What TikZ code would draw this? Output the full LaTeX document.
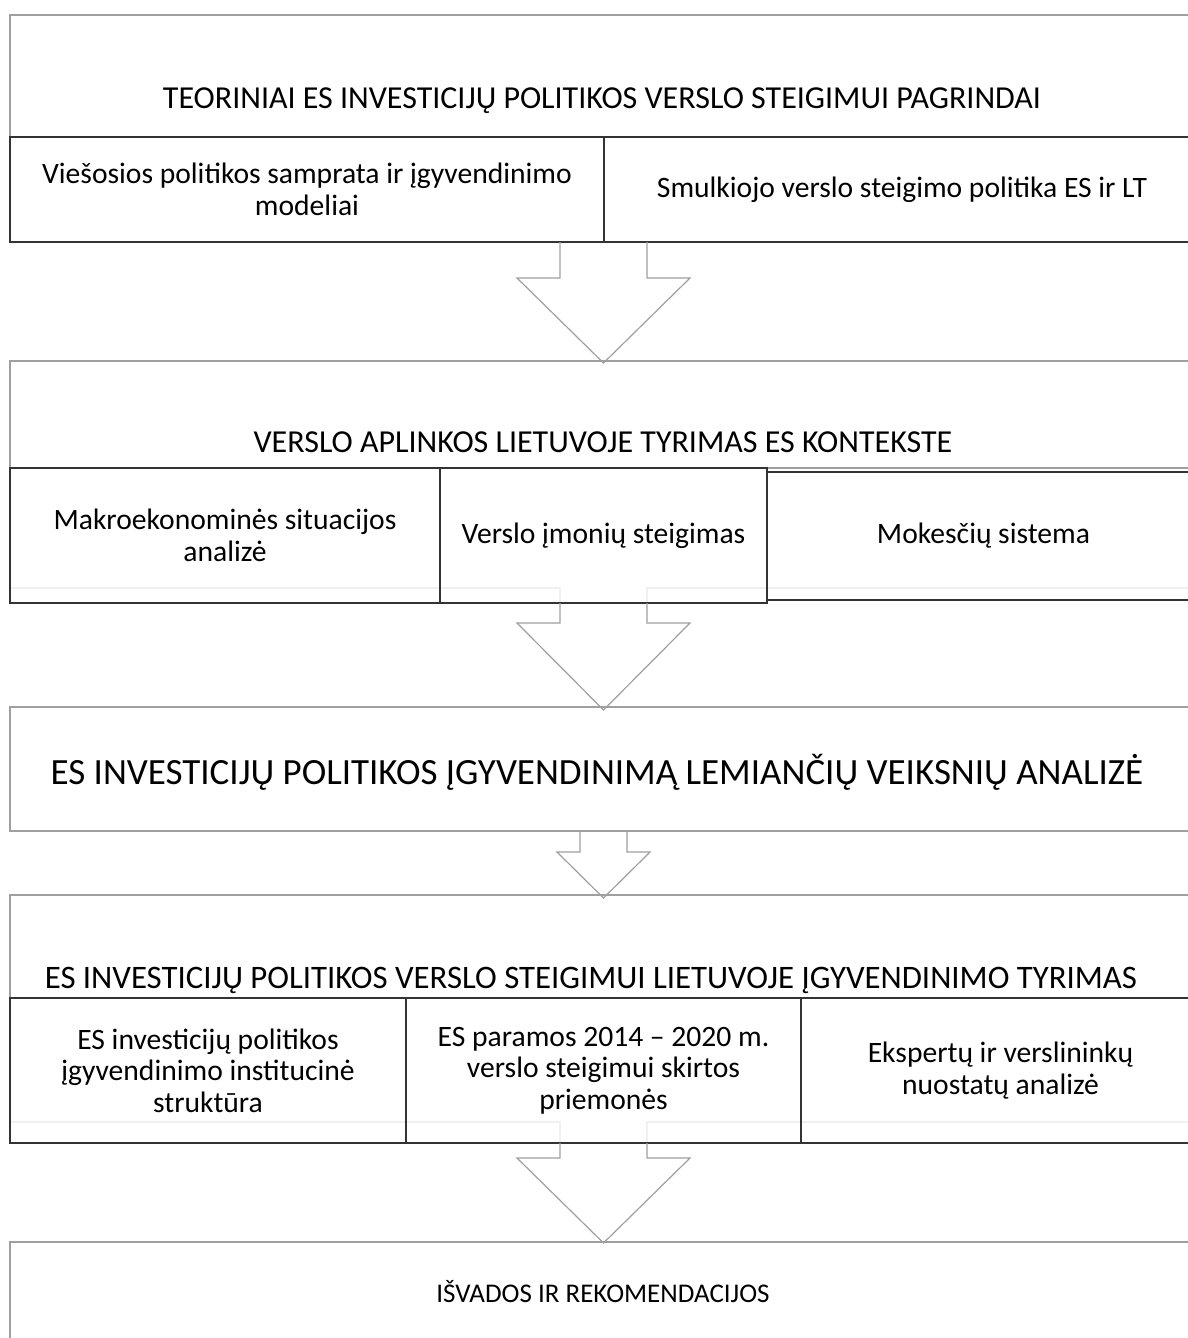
\documentclass[tikz,border=0pt]{standalone}
\usepackage{fontspec}
\setmainfont{Carlito}
\usetikzlibrary{calc}
\newcommand\blockarr[5]{%
  \draw[barrow] (#1) ++(-#2,0) -- ++(0,#3) -- ++(#2-#4,0) -- ++(#4,#5) -- ++(#4,-#5) -- ++(#2-#4,0) -- ++(0,-#3);}
\begin{document}
\begin{tikzpicture}[x=1pt,y=-1pt,
  hdr/.style={draw=gray!75, line width=1.2pt, anchor=north west, inner sep=0pt, outer sep=0pt},
  subbox/.style={draw=black!80, line width=1.3pt, anchor=north west, inner sep=0pt, outer sep=0pt, align=center, font=\fontsize{29.6}{31.5}\selectfont},
  ttl/.style={inner sep=0pt, anchor=base},
  barrow/.style={draw=gray!75, line width=1.2pt, line join=miter},
  faint/.style={draw=gray!12, line width=1.2pt}]
\useasboundingbox[fill=white] (0,0) rectangle (1187,1338);

% ---- block 1
\node[hdr, minimum width=1190, minimum height=122] (h1) at (10,15) {};
\node[ttl, font=\fontsize{32}{36}\selectfont] (t1) at (602,108) {TEORINIAI ES INVESTICIJŲ POLITIKOS VERSLO STEIGIMUI PAGRINDAI};
\node[subbox, minimum width=594, minimum height=105] (s1a) at (10,137) {Viešosios politikos samprata ir įgyvendinimo\\modeliai};
\node[subbox, minimum width=596, minimum height=105] (s1b) at (604,137) {Smulkiojo verslo steigimo politika ES ir LT};

% ---- block 2
\node[hdr, minimum width=1190, minimum height=107] (h2) at (10,361) {};
\node[ttl, font=\fontsize{32}{36}\selectfont] (t2) at (603,452) {VERSLO APLINKOS LIETUVOJE TYRIMAS ES KONTEKSTE};
\draw[faint] (10,588) -- (560,588) -- (560,603);
\draw[faint] (1200,588) -- (647,588) -- (647,603);
\node[subbox, minimum width=430, minimum height=135] (s2a) at (10,468) {Makroekonominės situacijos\\analizė};
\node[subbox, minimum width=433, minimum height=128] (s2c) at (767,472) {Mokesčių sistema};
\node[subbox, minimum width=327, minimum height=135] (s2b) at (440,468) {Verslo įmonių steigimas};

% ---- block 3
\node[hdr, minimum width=1190, minimum height=124] (h3) at (10,707) {};
\node[ttl, font=\fontsize{37}{40}\selectfont] (t3) at (597,784) {ES INVESTICIJŲ POLITIKOS ĮGYVENDINIMĄ LEMIANČIŲ VEIKSNIŲ ANALIZĖ};

% ---- block 4
\node[hdr, minimum width=1190, minimum height=103] (h4) at (10,895) {};
\node[ttl, font=\fontsize{32.8}{36}\selectfont] (t4) at (591,988) {ES INVESTICIJŲ POLITIKOS VERSLO STEIGIMUI LIETUVOJE ĮGYVENDINIMO TYRIMAS};
\draw[faint] (10,1122) -- (560,1122) -- (560,1143);
\draw[faint] (1200,1122) -- (647,1122) -- (647,1143);
\node[subbox, minimum width=396, minimum height=145] (s4a) at (10,998) {ES investicijų politikos\\įgyvendinimo institucinė\\struktūra};
\node[subbox, minimum width=395, minimum height=145] (s4b) at (406,998) {ES paramos 2014 – 2020 m.\\verslo steigimui skirtos\\priemonės};
\node[subbox, minimum width=399, minimum height=145] (s4c) at (801,998) {Ekspertų ir verslininkų\\nuostatų analizė};

% ---- block 5
\node[hdr, minimum width=1190, minimum height=110] (h5) at (10,1242) {};
\node[ttl, font=\fontsize{27}{30}\selectfont] (t5) at (603,1302) {IŠVADOS IR REKOMENDACIJOS};

% ---- block arrows
\coordinate (a1) at (603.5,242);
\coordinate (a2) at (603.5,603);
\coordinate (a3) at (603.5,831);
\coordinate (a4) at (603.5,1143);
\blockarr{a1}{43.5}{36}{86.5}{85}
\blockarr{a2}{43.5}{20}{86.5}{87}
\blockarr{a3}{23.5}{21}{46.5}{46}
\blockarr{a4}{43.5}{15}{86.5}{85}
\end{tikzpicture}
\end{document}
